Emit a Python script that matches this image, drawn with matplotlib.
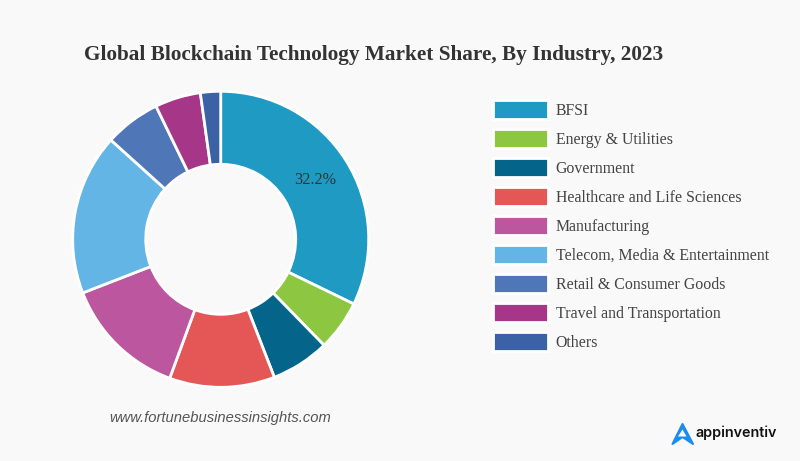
import matplotlib
matplotlib.use('Agg')
import matplotlib.pyplot as plt

# market share by industry
labels = ['BFSI', 'Energy & Utilities', 'Government', 'Healthcare and Life Sciences',
          'Manufacturing', 'Telecom, Media & Entertainment', 'Retail & Consumer Goods',
          'Travel and Transportation', 'Others']
shares = [32.2, 5.5, 6.4, 11.5, 13.5, 17.6, 6.1, 5.0, 2.2]
colors = ['#1f9ac2', '#8dc641', '#04648a', '#e55757', '#bb569f',
          '#62b5e5', '#4f77b8', '#a63687', '#3c62a6']

bg = '#f9f9f9'
plt.rcParams['font.family'] = ['Liberation Serif', 'DejaVu Serif']

fig = plt.figure(figsize=(8, 4.61), dpi=100, facecolor=bg)
# axes cover the whole figure, units are pixels
ax = fig.add_axes([0, 0, 1, 1])
H = 461

wedges, _ = ax.pie(shares, colors=colors, startangle=90, counterclock=False,
                   center=(220.7, H - 239.3), radius=148,
                   wedgeprops=dict(width=73, edgecolor='white', linewidth=2))
ax.set_xlim(0, 800)
ax.set_ylim(0, H)
ax.axis('off')

ax.text(84, H - 60, 'Global Blockchain Technology Market Share, By Industry, 2023',
        fontsize=15.3, fontweight='bold', color='#333333', va='baseline')
ax.text(315, H - 180, '32.2%', fontsize=11.7, color='#333333', ha='center', va='center')

# legend
ax.legend(wedges, labels, loc='upper left', bbox_to_anchor=(490 / 800, 1 - 97 / H),
          frameon=False, fontsize=11.4, labelcolor='#444444', handlelength=3.45,
          handleheight=1.45, labelspacing=0.645, handletextpad=0.5, borderpad=0.2,
          borderaxespad=0)

ax.text(109, H - 418, 'www.fortunebusinessinsights.com', fontsize=10.6, style='italic',
        family=['Liberation Sans'], color='#555555', va='center')

# logo mark and name
ax.fill([672.5, 682.5, 693, 682.5], [H - 444, H - 424, H - 444, H - 437],
        facecolor='#1a8cf0', edgecolor='#1a8cf0', lw=1.5, joinstyle='round')
ax.fill([678, 682.5, 686.5], [H - 436.5, H - 429.5, H - 436.5], facecolor=bg, edgecolor='none')
ax.text(696, H - 433, 'appinventiv', fontsize=10.3, fontweight='semibold',
        family=['Inter', 'DejaVu Sans'], color='#111111', va='center')

fig.savefig('out.png', dpi=100, facecolor=bg)
